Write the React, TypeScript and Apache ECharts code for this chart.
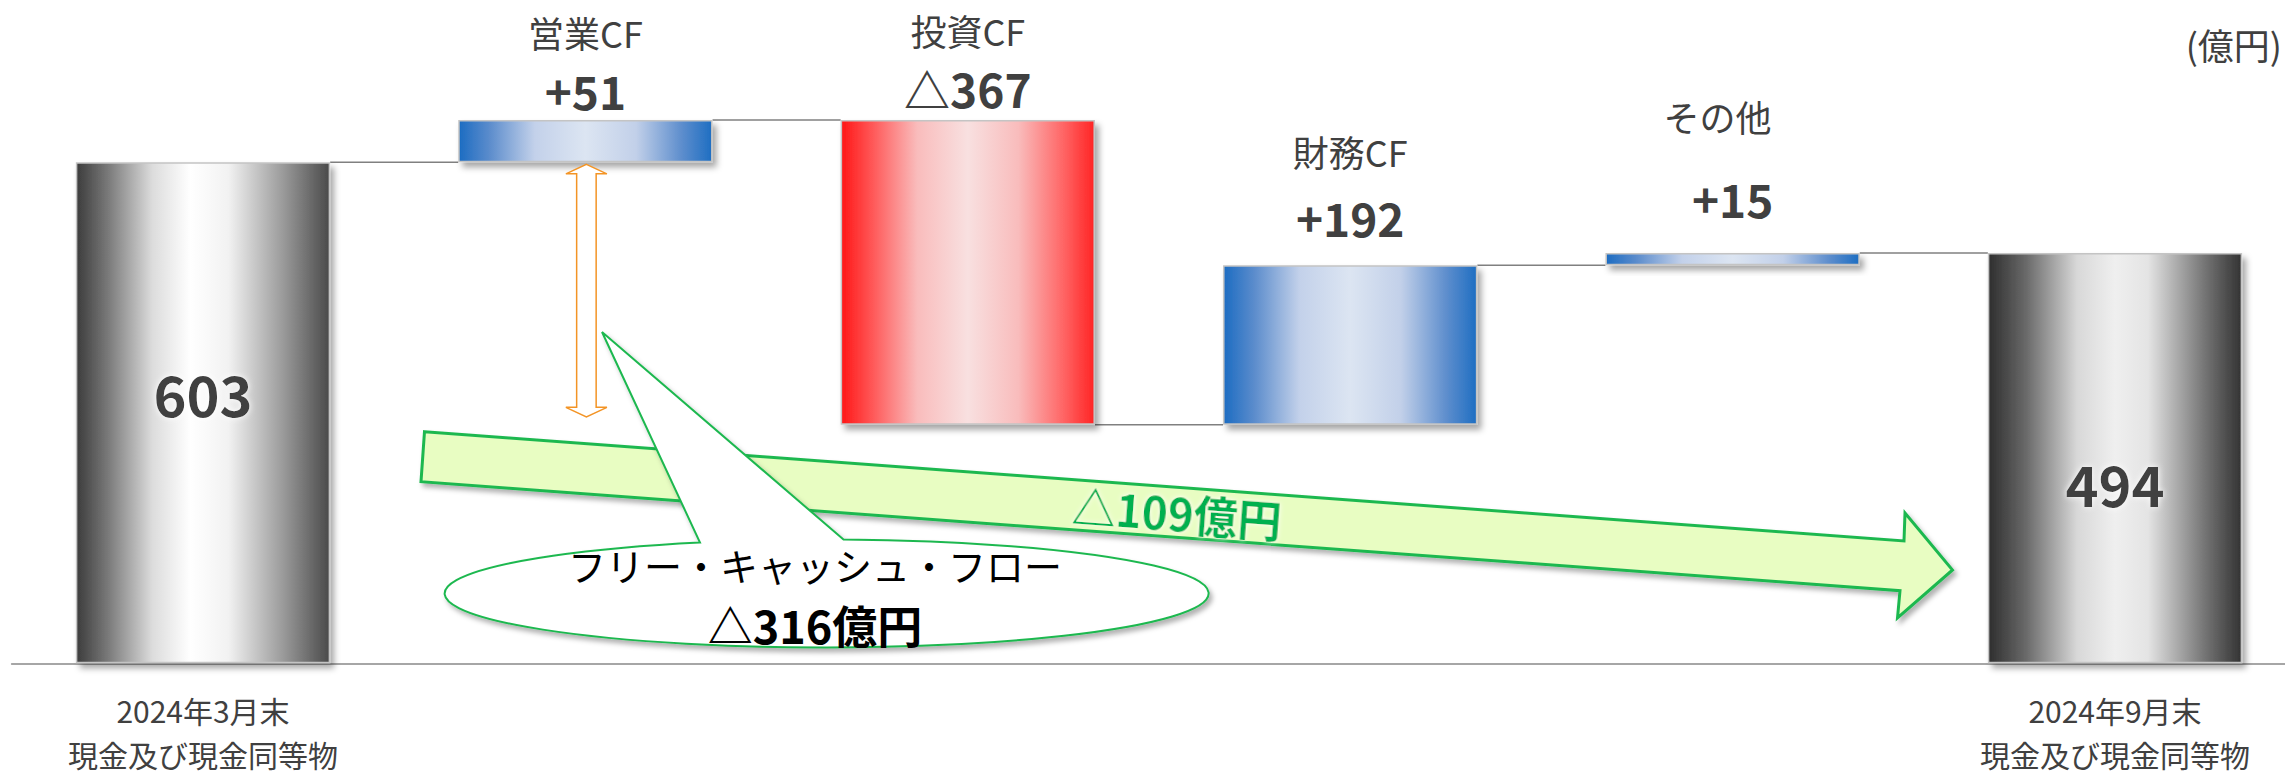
import React, { useEffect, useRef } from "react";
import * as echarts from "echarts";

// ---------- data ----------
const categories = [
  "2024年3月末\n現金及び現金同等物",
  "営業CF",
  "投資CF",
  "財務CF",
  "その他",
  "2024年9月末\n現金及び現金同等物",
];
const isTotal = [true, false, false, false, false, true];
const amounts = [603, 51, -367, 192, 15, 494];
const valueLabels = ["603", "+51", "△367", "+192", "+15", "494"];
const unitLabel = "(億円)";
const fcfTitle = "フリー・キャッシュ・フロー";
const fcfValue = "△316億円";
const netChangeLabel = "△109億円";

// ---------- styling ----------
const FONT = '"Noto Sans CJK JP", "Noto Sans", sans-serif';
const TEXT = "#404040";
const BAR_RATIO = 0.665;

const grad = (stops: [number, string][]) =>
  new echarts.graphic.LinearGradient(
    0, 0, 1, 0,
    stops.map(([offset, color]) => ({ offset, color }))
  );
const greyStart = (): any => grad([[0, "#3c3c3c"], [0.12, "#777"], [0.3, "#dcdcdc"], [0.45, "#fff"], [0.6, "#f2f2f2"], [0.82, "#999"], [1, "#4a4a4a"]]);
const greyEnd = (): any => grad([[0, "#2e2e2e"], [0.15, "#6a6a6a"], [0.35, "#d8d8d8"], [0.5, "#efefef"], [0.63, "#e4e4e4"], [0.85, "#777"], [1, "#333"]]);
const blue = (): any => grad([[0, "#1c6cc2"], [0.12, "#5b8ccc"], [0.3, "#c3d1ea"], [0.5, "#dce5f2"], [0.7, "#c2d0e9"], [0.88, "#5e8ecd"], [1, "#1e6ec2"]]);
const red = (): any => grad([[0, "#ff1616"], [0.12, "#ff5656"], [0.3, "#f9bcbc"], [0.5, "#f8e0e0"], [0.7, "#f9bcbc"], [0.88, "#ff6464"], [1, "#ff2424"]]);

// label layout (gap above bar, line heights, right padding of name)
const labelGap = [0, 8, 10, 26, 33, 0];
const nameLineH = [0, 72, 72, 88, 120, 0];
const namePadRight = [0, 0, 0, 0, 30, 0];

echarts.graphic.registerShape(
  "fcfCallout",
  (echarts.graphic as any).extendPath("M 843.5 539.5 A 382 54 0 1 1 700 542.5 L 602 332 Z", {})
);

export default function App() {
  const ref = useRef<HTMLDivElement>(null);

  useEffect(() => {
    if (!ref.current) return;
    const chart = echarts.init(ref.current, undefined, { renderer: "svg" });

    // waterfall computation
    const base: number[] = [];
    const heights: number[] = [];
    const levels: number[] = [];
    let running = 0;
    amounts.forEach((a, i) => {
      if (isTotal[i]) {
        base.push(0);
        heights.push(a);
        running = a;
      } else {
        const next = running + a;
        base.push(Math.min(running, next));
        heights.push(Math.abs(a));
        running = next;
      }
      levels.push(running);
    });

    const visibleData = heights.map((h, i) => {
      let color: any;
      if (i === 0) color = greyStart();
      else if (i === categories.length - 1) color = greyEnd();
      else color = amounts[i] < 0 ? red() : blue();
      const item: any = {
        value: h,
        itemStyle: { color },
      };
      if (isTotal[i]) {
        item.label = {
          show: true,
          position: "insideTop",
          distance: 200,
          formatter: valueLabels[i],
          fontFamily: FONT,
          fontWeight: "bold",
          fontSize: 56,
          lineHeight: 60,
          color: TEXT,
          textShadowColor: "#ffffff",
          textShadowBlur: 6,
        };
      } else {
        item.label = {
          show: true,
          position: "top",
          distance: labelGap[i],
          formatter: `{n|${categories[i]}}\n{v|${valueLabels[i]}}`,
          rich: {
            n: {
              fontFamily: FONT,
              fontSize: 36,
              color: TEXT,
              lineHeight: nameLineH[i],
              align: "center",
              padding: [0, namePadRight[i], 0, 0],
            },
            v: { fontFamily: FONT, fontSize: 46, fontWeight: "bold", color: TEXT, lineHeight: 44, align: "center" },
          },
        };
      }
      return item;
    });

    const option: any = {
      animation: false,
      backgroundColor: "#ffffff",
      grid: { left: 11.8, right: -21.2, top: 40.2, bottom: 112.7, outerBoundsMode: "none", containLabel: false },
      xAxis: {
        type: "category",
        data: categories,
        axisLine: { lineStyle: { color: "#a6a6a6", width: 2 } },
        axisTick: { show: false },
        axisLabel: {
          margin: 25,
          fontFamily: FONT,
          fontSize: 30,
          lineHeight: 44,
          color: TEXT,
          interval: 0,
          formatter: (v: string, idx: number) => (isTotal[idx] ? v : ""),
        },
      },
      yAxis: { type: "value", min: 0, max: 750, show: false },
      series: [
        {
          type: "bar",
          stack: "wf",
          barWidth: `${BAR_RATIO * 100}%`,
          data: base,
          itemStyle: { color: "rgba(0,0,0,0)" },
          silent: true,
          z: 2,
        },
        {
          type: "bar",
          stack: "wf",
          barWidth: `${BAR_RATIO * 100}%`,
          data: visibleData,
          itemStyle: {
            borderColor: "#c4c4c4",
            borderWidth: 1.5,
            shadowColor: "rgba(0,0,0,0.35)",
            shadowBlur: 6,
            shadowOffsetX: 4,
            shadowOffsetY: 5,
          },
          z: 3,
        },
        {
          type: "custom",
          data: levels.slice(0, levels.length - 1).map((l, i) => [i, l]),
          encode: { x: 0, y: 1 },
          z: 1,
          silent: true,
          renderItem: (params: any, api: any) => {
            const i = api.value(0);
            const lvl = api.value(1);
            const p = api.coord([i, lvl]);
            const band = api.size([1, 0])[0];
            const half = (band * BAR_RATIO) / 2;
            return {
              type: "line",
              shape: { x1: p[0] + half, y1: p[1], x2: p[0] + band - half, y2: p[1] },
              style: { stroke: "#808080", lineWidth: 1.5 },
            };
          },
        },
        {
          type: "custom",
          data: [[1, levels[0], levels[2]]],
          encode: { x: 0, y: [1, 2] },
          z: 4,
          silent: true,
          renderItem: (params: any, api: any) => {
            const t = api.coord([api.value(0), api.value(1)]);
            const b = api.coord([api.value(0), api.value(2)]);
            const cx = t[0] + 1;
            const top = t[1] + 2;
            const bot = b[1] - 8;
            const sw = 9.75;
            const hw = 20.5;
            const hh = 9.5;
            return {
              type: "polygon",
              shape: {
                points: [
                  [cx, top],
                  [cx + hw, top + hh],
                  [cx + sw, top + hh],
                  [cx + sw, bot - hh],
                  [cx + hw, bot - hh],
                  [cx, bot],
                  [cx - hw, bot - hh],
                  [cx - sw, bot - hh],
                  [cx - sw, top + hh],
                  [cx - hw, top + hh],
                ],
              },
              style: { fill: "#ffffff", stroke: "#f39425", lineWidth: 1.5 },
            };
          },
        },
      ],
      graphic: [
        {
          type: "text",
          x: 2282,
          y: 44,
          z: 20,
          style: { text: unitLabel, font: `36px ${FONT}`, fill: TEXT, align: "right", verticalAlign: "middle" },
        },
        {
          type: "polygon",
          z: 10,
          shape: {
            points: [
              [424.5, 431.7],
              [1904, 541],
              [1905, 513],
              [1952.5, 570],
              [1897.5, 618],
              [1900, 590.7],
              [421, 481.7],
            ],
          },
          style: {
            fill: "#e8fdc2",
            stroke: "#1fb850",
            lineWidth: 3,
            shadowColor: "rgba(0,0,0,0.3)",
            shadowBlur: 5,
            shadowOffsetX: 3,
            shadowOffsetY: 4,
          },
        },
        {
          type: "text",
          x: 1177,
          y: 512,
          rotation: -0.0737,
          z: 11,
          style: {
            text: netChangeLabel,
            font: `bold 44px ${FONT}`,
            fill: "#00b050",
            align: "center",
            verticalAlign: "middle",
            textShadowColor: "#ffffff",
            textShadowBlur: 5,
          },
        },
        {
          type: "fcfCallout",
          z: 12,
          x: 0,
          y: 0,
          style: {
            fill: "#ffffff",
            stroke: "#1fb850",
            lineWidth: 2,
            shadowColor: "rgba(0,0,0,0.3)",
            shadowBlur: 5,
            shadowOffsetX: 3,
            shadowOffsetY: 4,
          },
        },
        {
          type: "text",
          x: 815,
          y: 596,
          z: 13,
          style: {
            text: `{t|${fcfTitle}}\n{v|${fcfValue}}`,
            align: "center",
            verticalAlign: "middle",
            rich: {
              t: { fontFamily: FONT, fontSize: 38, color: "#262626", lineHeight: 56, align: "center" },
              v: { fontFamily: FONT, fontSize: 45, fontWeight: "bold", color: "#262626", lineHeight: 64, align: "center" },
            },
          },
        },
      ],
    };

    chart.setOption(option);
    return () => chart.dispose();
  }, []);

  return (
    <div
      ref={ref}
      style={{ position: "fixed", left: 0, top: 0, width: 2285, height: 776, background: "#fff" }}
    />
  );
}
